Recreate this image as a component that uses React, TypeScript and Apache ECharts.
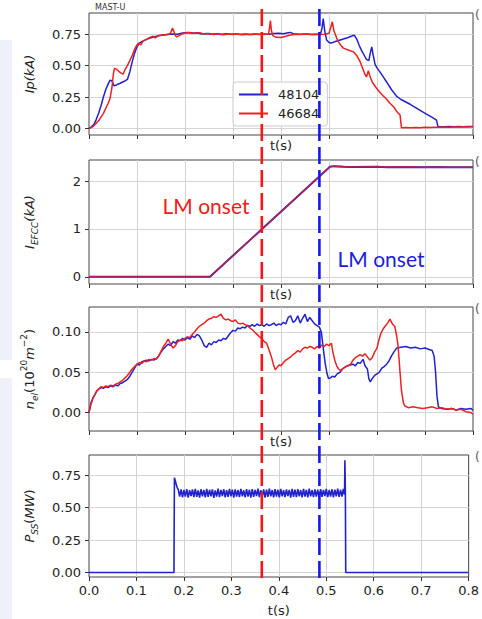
import React, { useEffect, useRef } from "react";
import * as echarts from "echarts";

const FONT = "'DejaVu Sans', sans-serif";
const BLUE = "#2222cc";
const RED = "#ee2020";

const legendNames = ["48104", "46684"];
const redOnset = 0.36;
const blueOnset = 0.48;

const ipTicks = [0, 0.25, 0.5, 0.75];
const efccTicks = [0, 1, 2];
const nelTicks = [0, 0.05, 0.1];
const pssTicks = [0, 0.25, 0.5, 0.75];

const ipBlue = [[0,0],[0.005,0.012],[0.01,0.03],[0.015,0.07],[0.02,0.12],[0.025,0.18],[0.03,0.25],[0.035,0.31],[0.04,0.355],[0.044,0.385],[0.048,0.378],[0.052,0.34],[0.056,0.343],[0.06,0.352],[0.065,0.36],[0.07,0.37],[0.075,0.378],[0.08,0.39],[0.085,0.45],[0.09,0.53],[0.095,0.6],[0.1,0.65],[0.105,0.68],[0.11,0.692],[0.115,0.7],[0.12,0.71],[0.127,0.72],[0.135,0.728],[0.145,0.738],[0.155,0.744],[0.165,0.75],[0.175,0.752],[0.185,0.75],[0.195,0.76],[0.205,0.764],[0.215,0.758],[0.225,0.762],[0.235,0.752],[0.245,0.757],[0.255,0.75],[0.265,0.755],[0.275,0.748],[0.285,0.754],[0.295,0.75],[0.305,0.753],[0.315,0.748],[0.325,0.752],[0.335,0.749],[0.345,0.753],[0.355,0.748],[0.365,0.752],[0.375,0.75],[0.385,0.756],[0.395,0.758],[0.405,0.754],[0.415,0.762],[0.42,0.765],[0.425,0.755],[0.435,0.752],[0.445,0.75],[0.455,0.753],[0.465,0.749],[0.475,0.751],[0.482,0.75],[0.485,0.79],[0.488,0.875],[0.491,0.78],[0.495,0.705],[0.5,0.685],[0.505,0.68],[0.51,0.688],[0.52,0.7],[0.53,0.712],[0.54,0.725],[0.55,0.74],[0.553,0.742],[0.558,0.71],[0.563,0.66],[0.568,0.62],[0.573,0.585],[0.578,0.55],[0.583,0.54],[0.586,0.6],[0.589,0.65],[0.592,0.585],[0.596,0.51],[0.6,0.482],[0.606,0.45],[0.613,0.41],[0.62,0.37],[0.63,0.31],[0.641,0.255],[0.65,0.23],[0.66,0.21],[0.67,0.19],[0.683,0.16],[0.695,0.132],[0.705,0.11],[0.715,0.088],[0.724,0.066],[0.727,0.014],[0.74,0.012],[0.75,0.015],[0.76,0.012],[0.77,0.014],[0.78,0.013],[0.79,0.015],[0.8,0.014]];

const ipRed = [[0,0],[0.005,0.006],[0.01,0.02],[0.015,0.04],[0.02,0.06],[0.025,0.09],[0.03,0.12],[0.035,0.16],[0.04,0.2],[0.044,0.24],[0.048,0.33],[0.051,0.44],[0.053,0.478],[0.057,0.472],[0.062,0.455],[0.067,0.44],[0.071,0.432],[0.075,0.468],[0.08,0.5],[0.085,0.54],[0.09,0.58],[0.095,0.63],[0.099,0.66],[0.104,0.68],[0.108,0.665],[0.113,0.7],[0.12,0.71],[0.127,0.726],[0.133,0.735],[0.138,0.722],[0.145,0.74],[0.155,0.745],[0.165,0.748],[0.17,0.76],[0.174,0.8],[0.177,0.77],[0.18,0.74],[0.183,0.73],[0.188,0.74],[0.195,0.755],[0.2,0.76],[0.21,0.764],[0.22,0.758],[0.23,0.762],[0.24,0.753],[0.25,0.757],[0.26,0.748],[0.27,0.754],[0.28,0.747],[0.29,0.752],[0.3,0.749],[0.31,0.753],[0.32,0.747],[0.33,0.751],[0.34,0.748],[0.35,0.752],[0.36,0.749],[0.37,0.751],[0.374,0.752],[0.376,0.8],[0.378,0.86],[0.38,0.78],[0.383,0.74],[0.39,0.726],[0.4,0.724],[0.41,0.734],[0.42,0.745],[0.43,0.75],[0.44,0.748],[0.45,0.752],[0.46,0.749],[0.47,0.751],[0.48,0.748],[0.49,0.75],[0.5,0.758],[0.504,0.81],[0.507,0.85],[0.51,0.78],[0.516,0.72],[0.52,0.69],[0.525,0.66],[0.53,0.64],[0.54,0.625],[0.551,0.61],[0.558,0.58],[0.565,0.53],[0.57,0.48],[0.575,0.43],[0.578,0.41],[0.582,0.46],[0.585,0.42],[0.59,0.37],[0.599,0.32],[0.61,0.27],[0.62,0.232],[0.627,0.2],[0.635,0.17],[0.642,0.13],[0.648,0.106],[0.651,0.004],[0.66,0.006],[0.67,0.004],[0.68,0.007],[0.69,0.005],[0.7,0.008],[0.71,0.006],[0.72,0.009],[0.73,0.008],[0.74,0.01],[0.75,0.009],[0.76,0.011],[0.77,0.01],[0.78,0.012],[0.79,0.011],[0.8,0.013]];

const efccBlue = [[0,0],[0.05,0.004],[0.1,0],[0.15,0.004],[0.2,0],[0.252,0.002],[0.502,2.3],[0.51,2.312],[0.53,2.3],[0.55,2.296],[0.6,2.3],[0.62,2.29],[0.65,2.296],[0.7,2.29],[0.72,2.295],[0.75,2.286],[0.8,2.29]];
const efccRed = [[0,0.002],[0.05,0],[0.1,0.004],[0.15,0],[0.2,0.003],[0.252,0],[0.502,2.298],[0.51,2.31],[0.53,2.302],[0.55,2.294],[0.6,2.298],[0.62,2.292],[0.65,2.298],[0.7,2.288],[0.72,2.294],[0.75,2.288],[0.8,2.288]];

const nelBlue = [[0,0],[0.004,0.012],[0.008,0.018],[0.012,0.022],[0.016,0.027],[0.02,0.029],[0.025,0.031],[0.03,0.03],[0.035,0.032],[0.04,0.031],[0.045,0.033],[0.05,0.032],[0.055,0.034],[0.06,0.033],[0.065,0.036],[0.07,0.037],[0.075,0.039],[0.08,0.041],[0.085,0.045],[0.09,0.05],[0.095,0.055],[0.1,0.06],[0.105,0.059],[0.11,0.063],[0.115,0.064],[0.12,0.065],[0.125,0.064],[0.13,0.066],[0.135,0.065],[0.14,0.067],[0.145,0.07],[0.15,0.075],[0.155,0.079],[0.16,0.082],[0.165,0.085],[0.17,0.083],[0.175,0.088],[0.18,0.086],[0.185,0.09],[0.19,0.089],[0.195,0.092],[0.2,0.09],[0.205,0.093],[0.21,0.091],[0.215,0.095],[0.22,0.093],[0.225,0.097],[0.23,0.095],[0.235,0.09],[0.24,0.083],[0.245,0.081],[0.25,0.086],[0.255,0.084],[0.26,0.088],[0.265,0.087],[0.27,0.09],[0.275,0.089],[0.28,0.092],[0.285,0.091],[0.29,0.095],[0.295,0.099],[0.3,0.102],[0.305,0.101],[0.31,0.105],[0.315,0.104],[0.32,0.106],[0.325,0.105],[0.33,0.108],[0.335,0.107],[0.34,0.109],[0.345,0.107],[0.35,0.11],[0.355,0.108],[0.36,0.109],[0.365,0.107],[0.37,0.11],[0.375,0.108],[0.38,0.109],[0.385,0.111],[0.39,0.108],[0.395,0.11],[0.4,0.109],[0.405,0.112],[0.41,0.11],[0.415,0.118],[0.42,0.12],[0.425,0.112],[0.43,0.114],[0.435,0.12],[0.44,0.111],[0.445,0.117],[0.45,0.122],[0.455,0.113],[0.46,0.118],[0.465,0.114],[0.47,0.11],[0.475,0.108],[0.48,0.106],[0.484,0.1],[0.488,0.08],[0.492,0.061],[0.496,0.048],[0.499,0.042],[0.503,0.043],[0.507,0.045],[0.512,0.044],[0.517,0.048],[0.523,0.05],[0.528,0.054],[0.533,0.056],[0.538,0.058],[0.544,0.059],[0.55,0.06],[0.555,0.058],[0.56,0.062],[0.565,0.061],[0.571,0.066],[0.575,0.058],[0.58,0.054],[0.583,0.042],[0.586,0.038],[0.59,0.042],[0.595,0.046],[0.6,0.048],[0.605,0.05],[0.61,0.055],[0.615,0.057],[0.62,0.06],[0.625,0.064],[0.63,0.07],[0.635,0.075],[0.641,0.08],[0.65,0.081],[0.66,0.082],[0.67,0.08],[0.68,0.081],[0.69,0.079],[0.7,0.08],[0.71,0.078],[0.715,0.077],[0.719,0.07],[0.722,0.05],[0.725,0.02],[0.728,0.007],[0.735,0.005],[0.745,0.004],[0.755,0.005],[0.765,0.003],[0.775,0.005],[0.785,0.004],[0.795,0.005],[0.8,0.003]];

const nelRed = [[0,0],[0.004,0.01],[0.008,0.017],[0.012,0.022],[0.016,0.026],[0.02,0.029],[0.025,0.032],[0.03,0.031],[0.035,0.033],[0.04,0.032],[0.045,0.034],[0.05,0.033],[0.055,0.035],[0.06,0.036],[0.065,0.038],[0.07,0.04],[0.075,0.043],[0.08,0.046],[0.085,0.05],[0.09,0.054],[0.095,0.057],[0.1,0.06],[0.105,0.062],[0.11,0.061],[0.115,0.064],[0.12,0.063],[0.125,0.066],[0.13,0.065],[0.135,0.067],[0.14,0.066],[0.145,0.07],[0.15,0.076],[0.155,0.082],[0.16,0.086],[0.165,0.091],[0.17,0.085],[0.175,0.08],[0.18,0.083],[0.185,0.088],[0.19,0.09],[0.195,0.089],[0.2,0.092],[0.205,0.094],[0.21,0.093],[0.215,0.097],[0.22,0.1],[0.225,0.104],[0.23,0.107],[0.235,0.109],[0.24,0.111],[0.245,0.114],[0.25,0.116],[0.255,0.117],[0.26,0.119],[0.265,0.118],[0.27,0.12],[0.275,0.122],[0.28,0.117],[0.285,0.115],[0.29,0.116],[0.295,0.114],[0.3,0.113],[0.305,0.115],[0.31,0.111],[0.315,0.11],[0.32,0.111],[0.325,0.109],[0.33,0.108],[0.335,0.105],[0.34,0.103],[0.345,0.1],[0.35,0.097],[0.355,0.094],[0.36,0.092],[0.365,0.088],[0.37,0.086],[0.375,0.078],[0.38,0.069],[0.384,0.06],[0.388,0.053],[0.392,0.056],[0.396,0.059],[0.4,0.058],[0.405,0.062],[0.41,0.065],[0.415,0.067],[0.42,0.069],[0.425,0.072],[0.43,0.074],[0.435,0.077],[0.44,0.075],[0.445,0.079],[0.45,0.081],[0.455,0.08],[0.46,0.082],[0.465,0.081],[0.47,0.079],[0.475,0.082],[0.48,0.08],[0.485,0.084],[0.49,0.082],[0.495,0.085],[0.5,0.083],[0.505,0.086],[0.508,0.075],[0.512,0.065],[0.516,0.058],[0.52,0.054],[0.524,0.052],[0.53,0.055],[0.535,0.057],[0.54,0.058],[0.545,0.06],[0.55,0.065],[0.555,0.068],[0.56,0.07],[0.565,0.072],[0.57,0.07],[0.575,0.073],[0.58,0.069],[0.585,0.065],[0.59,0.068],[0.595,0.075],[0.6,0.08],[0.604,0.09],[0.608,0.098],[0.613,0.104],[0.618,0.108],[0.622,0.111],[0.627,0.116],[0.632,0.11],[0.637,0.107],[0.641,0.095],[0.644,0.082],[0.648,0.05],[0.651,0.027],[0.655,0.012],[0.658,0.008],[0.665,0.006],[0.675,0.007],[0.685,0.006],[0.695,0.005],[0.705,0.006],[0.715,0.007],[0.725,0.005],[0.735,0.006],[0.745,0.004],[0.755,0.005],[0.765,0.003],[0.775,0.004],[0.785,0.001],[0.795,0],[0.8,-0.002]];

const pssBlue = [[0,0],[0.179,0],[0.18,0.73],[0.182,0.705],[0.184,0.675],[0.186,0.652],[0.188,0.64],[0.191,0.585],[0.194,0.64],[0.197,0.578],[0.2,0.636],[0.203,0.584],[0.206,0.642],[0.209,0.576],[0.212,0.634],[0.215,0.588],[0.218,0.639],[0.221,0.58],[0.224,0.644],[0.227,0.583],[0.23,0.632],[0.233,0.577],[0.236,0.641],[0.239,0.586],[0.242,0.635],[0.245,0.579],[0.248,0.643],[0.251,0.582],[0.254,0.637],[0.257,0.587],[0.26,0.64],[0.263,0.575],[0.266,0.633],[0.269,0.584],[0.272,0.645],[0.275,0.58],[0.278,0.636],[0.281,0.588],[0.284,0.641],[0.287,0.578],[0.29,0.634],[0.293,0.583],[0.296,0.643],[0.299,0.586],[0.302,0.638],[0.305,0.576],[0.308,0.64],[0.311,0.584],[0.314,0.635],[0.317,0.58],[0.32,0.644],[0.323,0.587],[0.326,0.633],[0.329,0.579],[0.332,0.641],[0.335,0.585],[0.338,0.637],[0.341,0.577],[0.344,0.642],[0.347,0.582],[0.35,0.636],[0.353,0.588],[0.356,0.645],[0.359,0.58],[0.362,0.634],[0.365,0.585],[0.368,0.64],[0.371,0.576],[0.374,0.638],[0.377,0.583],[0.38,0.646],[0.383,0.587],[0.386,0.635],[0.389,0.579],[0.392,0.642],[0.395,0.584],[0.398,0.637],[0.401,0.578],[0.404,0.643],[0.407,0.586],[0.41,0.634],[0.413,0.581],[0.416,0.64],[0.419,0.588],[0.422,0.636],[0.425,0.577],[0.428,0.644],[0.431,0.583],[0.434,0.638],[0.437,0.58],[0.44,0.641],[0.443,0.586],[0.446,0.635],[0.449,0.578],[0.452,0.643],[0.455,0.584],[0.458,0.637],[0.461,0.579],[0.464,0.645],[0.467,0.587],[0.47,0.634],[0.473,0.581],[0.476,0.64],[0.479,0.585],[0.482,0.638],[0.485,0.577],[0.488,0.642],[0.491,0.583],[0.494,0.636],[0.497,0.588],[0.5,0.644],[0.503,0.58],[0.506,0.635],[0.509,0.585],[0.512,0.641],[0.515,0.578],[0.518,0.638],[0.521,0.586],[0.524,0.646],[0.527,0.582],[0.53,0.637],[0.533,0.584],[0.536,0.643],[0.5385,0.6],[0.5392,0.865],[0.5402,0.62],[0.541,0],[0.8,0]];

const RICH = {
  i: { fontStyle: "italic", fontSize: 13, fontFamily: FONT, color: "#222", lineHeight: 20 },
  n: { fontSize: 13, fontFamily: FONT, color: "#222", lineHeight: 20 },
  sub: { fontStyle: "italic", fontSize: 9, fontFamily: FONT, color: "#222", lineHeight: 10, verticalAlign: "bottom" },
  sup: { fontSize: 9, fontFamily: FONT, color: "#222", lineHeight: 10, verticalAlign: "top" },
};

const GRIDS = [
  { left: 89, top: 13, width: 384, height: 122 },
  { left: 89, top: 160, width: 384, height: 124 },
  { left: 89, top: 307, width: 384, height: 124 },
  { left: 89, top: 455, width: 384, height: 122 },
];

function makeX(i: number, bottom: boolean) {
  return {
    type: "value", gridIndex: i, min: 0, max: 0.8, interval: 0.1,
    axisLine: { show: false, onZero: false },
    axisTick: { show: true, length: 4, lineStyle: { color: "#333" } },
    axisLabel: { show: bottom, formatter: (v: number) => v.toFixed(1), color: "#222", fontSize: 13, fontFamily: FONT, margin: 7 },
    splitLine: { show: true, showMinLine: false, showMaxLine: false, lineStyle: { color: "#d4d4d4", width: 1 } },
    name: "t(s)", nameLocation: "middle", nameGap: bottom ? 27 : 4,
    nameTextStyle: { fontSize: 13, color: "#222", fontFamily: FONT },
  };
}

function makeY(i: number, min: number, max: number, ticks: number[], digits: number, name: string) {
  return {
    type: "value", gridIndex: i, min, max,
    axisLine: { show: false, onZero: false },
    axisTick: { show: true, length: 4, customValues: ticks, lineStyle: { color: "#333" } },
    axisLabel: { customValues: ticks, formatter: (v: number) => v.toFixed(digits), color: "#222", fontSize: 13, fontFamily: FONT, margin: 8 },
    splitLine: { show: true, lineStyle: { color: "#d4d4d4", width: 1 } },
    name, nameLocation: "middle", nameGap: 50,
    nameTextStyle: { rich: RICH, color: "#222" },
  };
}

function line(name: string, idx: number, data: number[][], color: string, width: number, opacity = 1) {
  return {
    type: "line", name, xAxisIndex: idx, yAxisIndex: idx, data, symbol: "none", showSymbol: false,
    silent: true, lineStyle: { color, width, opacity }, itemStyle: { color },
  };
}

export default function App() {
  const ref = useRef<HTMLDivElement>(null);
  useEffect(() => {
    if (!ref.current) return;
    const chart = echarts.init(ref.current, null, { renderer: "svg" });
    chart.setOption({
      animation: false,
      backgroundColor: "#ffffff",
      grid: GRIDS.map((g) => ({ ...g, show: true, borderColor: "#444", borderWidth: 1, backgroundColor: "transparent" })),
      xAxis: [makeX(0, false), makeX(1, false), makeX(2, false), makeX(3, true)],
      yAxis: [
        makeY(0, -0.053, 0.92, ipTicks, 2, "{i|Ip(kA)}"),
        makeY(1, -0.15, 2.44, efccTicks, 0, "{i|I}{sub|EFCC}{i|(kA)}"),
        makeY(2, -0.023, 0.131, nelTicks, 2, "{i|n}{sub|el}{n|(10}{sup|20}{i|m}{sup|−2}{n|)}"),
        makeY(3, -0.035, 0.905, pssTicks, 2, "{i|P}{sub|SS}{n|(}{i|MW}{n|)}"),
      ],
      legend: {
        data: legendNames.map((n) => ({ name: n, icon: "rect" })),
        orient: "vertical", left: 233, top: 82,
        itemWidth: 29, itemHeight: 2, itemGap: 6,
        backgroundColor: "rgba(255,255,255,0.85)", borderColor: "#cccccc", borderWidth: 1, borderRadius: 3,
        padding: [6, 8, 6, 6],
        textStyle: { fontSize: 13, color: "#222", fontFamily: FONT, padding: [0, 0, 0, 5] },
      },
      series: [
        line(legendNames[0], 0, ipBlue, BLUE, 1.5),
        line(legendNames[1], 0, ipRed, RED, 1.5),
        line("efcc-48104", 1, efccBlue, BLUE, 2),
        line("efcc-46684", 1, efccRed, RED, 1.5, 0.7),
        line("nel-48104", 2, nelBlue, BLUE, 1.5),
        line("nel-46684", 2, nelRed, RED, 1.5),
        line("pss-48104", 3, pssBlue, BLUE, 1.6),
      ],
    });

    const xr = chart.convertToPixel({ xAxisIndex: 0 }, redOnset) as unknown as number;
    const xb = chart.convertToPixel({ xAxisIndex: 0 }, blueOnset) as unknown as number;
    const yTop = GRIDS[0].top - 4;
    const yBot = GRIDS[3].top + GRIDS[3].height + 4;

    chart.setOption({
      graphic: [
        { type: "rect", shape: { x: 0, y: 40, width: 12, height: 320 }, style: { fill: "#eef2f8" }, z: 0, silent: true },
        { type: "rect", shape: { x: 0, y: 378, width: 12, height: 241 }, style: { fill: "#eef2f8" }, z: 0, silent: true },
        { type: "text", x: 95, y: 3, style: { text: "MAST-U", fontSize: 8, fontFamily: FONT, fill: "#333" }, z: 50, silent: true },
        ...GRIDS.map((g) => ({ type: "text", x: 475, y: g.top - 4, style: { text: "(", fontSize: 12, fontFamily: FONT, fill: "#555" }, z: 50, silent: true })),
        { type: "text", x: 206, y: 205, style: { text: "LM onset", fontSize: 21, fontFamily: "Lato, sans-serif", fill: "#ee1c1c", align: "center", verticalAlign: "middle" }, z: 50, silent: true },
        { type: "text", x: 381, y: 258, style: { text: "LM onset", fontSize: 21, fontFamily: "Lato, sans-serif", fill: "#1c1ce0", align: "center", verticalAlign: "middle" }, z: 50, silent: true },
        { type: "line", shape: { x1: xr, y1: yTop, x2: xr, y2: yBot }, style: { stroke: "#f01818", lineWidth: 2.6, lineDash: [17, 6] }, z: 100, silent: true },
        { type: "line", shape: { x1: xb, y1: yTop, x2: xb, y2: yBot }, style: { stroke: "#1818e8", lineWidth: 2.6, lineDash: [17, 6] }, z: 100, silent: true },
      ],
    });

    return () => chart.dispose();
  }, []);
  return <div ref={ref} style={{ position: "fixed", left: 0, top: 0, width: 482, height: 619 }} />;
}
